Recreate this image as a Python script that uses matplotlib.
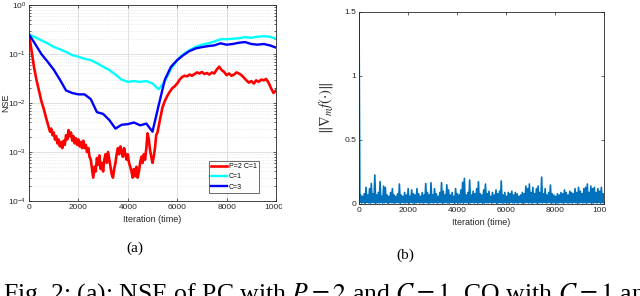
import numpy as np
import matplotlib
matplotlib.use("Agg")
import matplotlib.pyplot as plt
from matplotlib.patches import Rectangle
from matplotlib.ticker import LogLocator, FixedLocator, NullFormatter

plt.rcParams['font.family'] = ['Liberation Sans', 'DejaVu Sans']
plt.rcParams['mathtext.fontset'] = 'stix'

# ---------------- data (a) ----------------
red_x = list(range(0, 800, 100)) + list(range(800, 5200, 50)) + list(range(5200, 10001, 100))
red_pc = [0.25, 0.12, 0.055, 0.03, 0.018, 0.011, 0.0075, 0.0048,
          0.0032, 0.0026, 0.0030, 0.0022, 0.0025, 0.0018, 0.0021, 0.0015, 0.0018, 0.0013,
          0.0016, 0.0012, 0.0017, 0.0014, 0.0022, 0.0018, 0.0028, 0.0021, 0.0025, 0.0017,
          0.0021, 0.0015, 0.0019, 0.0014, 0.0018, 0.0013, 0.0016, 0.0012, 0.0017, 0.0012,
          0.0014, 0.0010, 0.0012, 0.0008, 0.0007, 0.00045, 0.00030, 0.00050, 0.00040, 0.00075,
          0.00055, 0.00085, 0.00045, 0.0006, 0.0004, 0.0007, 0.0009, 0.0006, 0.001, 0.0007,
          0.0005, 0.00035, 0.0003, 0.00045, 0.0006, 0.0009, 0.0012, 0.0009, 0.0013, 0.001,
          0.0008, 0.0012, 0.0009, 0.0007, 0.0009, 0.0006, 0.0005, 0.0004, 0.0003, 0.00045,
          0.00032, 0.0005, 0.0003, 0.0004, 0.0006, 0.0008, 0.0006, 0.0009, 0.0007, 0.0012,
          0.0024, 0.0018, 0.0011, 0.0008, 0.0006, 0.0008, 0.0012, 0.0022,
          0.0025, 0.0045, 0.008, 0.011, 0.014, 0.017, 0.020, 0.022,
          0.025, 0.030, 0.034, 0.036, 0.035, 0.038, 0.036, 0.039, 0.042, 0.040,
          0.043, 0.039, 0.041, 0.038, 0.042, 0.040, 0.048, 0.055, 0.047, 0.043,
          0.037, 0.040, 0.036, 0.038, 0.042, 0.040, 0.037, 0.033, 0.029, 0.026,
          0.028, 0.025, 0.029, 0.027, 0.030, 0.029, 0.031, 0.026, 0.020, 0.016,
          0.018]

co_x = list(range(0, 10001, 250))
cyan_c1 = [0.25, 0.22, 0.19, 0.165, 0.14, 0.125, 0.11, 0.095, 0.088, 0.08,
           0.075, 0.065, 0.055, 0.047, 0.038, 0.03, 0.027, 0.028, 0.027, 0.028,
           0.025, 0.019, 0.028, 0.05, 0.075, 0.1, 0.12, 0.14, 0.155, 0.165,
           0.18, 0.2, 0.2, 0.205, 0.21, 0.22, 0.215, 0.225, 0.23, 0.225,
           0.205]
blue_c3 = [0.25, 0.16, 0.1, 0.07, 0.048, 0.03, 0.018, 0.016, 0.015, 0.015,
           0.012, 0.0065, 0.006, 0.0045, 0.003, 0.0036, 0.0037, 0.004, 0.0035, 0.0038,
           0.0026, 0.009, 0.03, 0.055, 0.075, 0.095, 0.115, 0.13, 0.138, 0.145,
           0.15, 0.165, 0.155, 0.16, 0.17, 0.175, 0.16, 0.155, 0.16, 0.15,
           0.135]
legend_labels = ['P=2 C=1', 'C=1', 'C=3']

# ---------------- data (b) ----------------
grad_peaks = [1.5, 0.07, 0.06, 0.08, 0.13, 0.07, 0.12, 0.16, 0.08, 0.226,
              0.07, 0.09, 0.175, 0.06, 0.14, 0.13, 0.07, 0.06, 0.09, 0.12,
              0.07, 0.06, 0.08, 0.156, 0.07, 0.06, 0.09, 0.07, 0.12, 0.06,
              0.11, 0.08, 0.07, 0.12, 0.08, 0.06, 0.09, 0.07, 0.16, 0.09,
              0.07, 0.166, 0.07, 0.12, 0.08, 0.06, 0.09, 0.166, 0.1, 0.07,
              0.15, 0.11, 0.07, 0.09, 0.06, 0.12, 0.08, 0.07, 0.11, 0.17,
              0.2, 0.07, 0.09, 0.187, 0.07, 0.1, 0.08, 0.12, 0.174, 0.08,
              0.07, 0.11, 0.156, 0.08, 0.1, 0.06, 0.09, 0.07, 0.11, 0.08,
              0.1, 0.18, 0.07, 0.09, 0.06, 0.09, 0.08, 0.1, 0.07, 0.09,
              0.08, 0.06, 0.07, 0.09, 0.08, 0.14, 0.12, 0.156, 0.09, 0.13,
              0.08, 0.12, 0.14, 0.09, 0.21, 0.08, 0.12, 0.07, 0.09, 0.148,
              0.08, 0.07, 0.06, 0.08, 0.07, 0.09, 0.08, 0.11, 0.09, 0.07,
              0.1, 0.09, 0.08, 0.12, 0.09, 0.13, 0.1, 0.08, 0.12, 0.13,
              0.156, 0.09, 0.14, 0.12, 0.13, 0.09, 0.12, 0.1, 0.13, 0.08]
grad_troughs = [0.012, 0.008, 0.011, 0.006, 0.013, 0.009, 0.007, 0.012, 0.010, 0.006,
                0.011, 0.008, 0.013, 0.007, 0.010, 0.012, 0.006, 0.009, 0.011, 0.008,
                0.007, 0.012, 0.010, 0.006, 0.013, 0.009, 0.008, 0.011, 0.007, 0.012,
                0.010, 0.006, 0.009, 0.013, 0.008, 0.011, 0.007, 0.010, 0.012, 0.006,
                0.009, 0.011, 0.008, 0.013, 0.007, 0.010, 0.012, 0.006, 0.009, 0.011,
                0.008, 0.007, 0.012, 0.010, 0.006, 0.013, 0.009, 0.008, 0.011, 0.007,
                0.012, 0.010, 0.006, 0.009, 0.013, 0.008, 0.011, 0.007, 0.010, 0.012,
                0.006, 0.009, 0.011, 0.008, 0.013, 0.007, 0.010, 0.012, 0.006, 0.009,
                0.011, 0.008, 0.007, 0.012, 0.010, 0.006, 0.013, 0.009, 0.008, 0.011,
                0.007, 0.012, 0.010, 0.006, 0.009, 0.013, 0.008, 0.011, 0.007, 0.010,
                0.012, 0.006, 0.009, 0.011, 0.008, 0.013, 0.007, 0.010, 0.012, 0.006,
                0.009, 0.011, 0.008, 0.007, 0.012, 0.010, 0.006, 0.013, 0.009, 0.008,
                0.011, 0.007, 0.012, 0.010, 0.006, 0.009, 0.013, 0.008, 0.011, 0.007,
                0.010, 0.012, 0.006, 0.009, 0.011, 0.008, 0.013, 0.007, 0.010, 0.012]

x_ticks = [0, 2000, 4000, 6000, 8000, 10000]

W, H = 640, 296
fig = plt.figure(figsize=(6.4, 2.96), dpi=100)

def px_axes(l, t, r, b):
    return fig.add_axes([l / W, 1 - b / H, (r - l) / W, (b - t) / H])

tick_col = '#262626'
spine_col = '#262626'

# ---------------- panel (a) ----------------
ax1 = px_axes(29, 5, 276, 201)
ax1.semilogy(red_x, red_pc, color='#ff0000', lw=1.9, label=legend_labels[0])
ax1.semilogy(co_x, cyan_c1, color='#00ffff', lw=1.7, label=legend_labels[1])
ax1.semilogy(co_x, blue_c3, color='#0000ff', lw=1.7, label=legend_labels[2])
ax1.set_xlim(0, 10000)
ax1.set_ylim(1e-4, 1)
ax1.set_xticks(x_ticks)
ax1.set_xticklabels([str(v) for v in x_ticks])
ax1.yaxis.set_major_locator(FixedLocator([1e-4, 1e-3, 1e-2, 1e-1, 1]))
ax1.yaxis.set_minor_locator(LogLocator(base=10, subs=np.arange(2, 10), numticks=20))
ax1.yaxis.set_minor_formatter(NullFormatter())
ax1.grid(True, which='major', color='#dcdcdc', lw=0.6)
ax1.grid(True, which='minor', axis='y', color='#dcdcdc', lw=0.5, ls=':')
ax1.set_axisbelow(True)
ax1.tick_params(which='both', direction='in', top=True, right=True, labelsize=6,
                colors=tick_col, length=2.5, width=0.5, pad=2)
ax1.tick_params(which='minor', length=1.3)
for s in ax1.spines.values():
    s.set_color(spine_col); s.set_linewidth(0.6)
ax1.set_xlabel('Iteration (time)', fontsize=6.5, color=tick_col, labelpad=3)
ax1.set_ylabel('NSE', fontsize=6.5, color=tick_col)
ax1.yaxis.set_label_coords((10 - 29) / 247, 0.5)
leg = ax1.legend(loc='lower right', bbox_to_anchor=((259 - 29) / 247, 8 / 196),
                 fontsize=5, frameon=True, fancybox=False,
                 edgecolor='#262626', handlelength=2.2, handletextpad=0.3,
                 borderpad=0.35, labelspacing=0.45, borderaxespad=0.0)
leg.get_frame().set_linewidth(0.6)

# ---------------- panel (b) ----------------
ax2 = px_axes(359, 11.7, 604, 204)
vals = np.empty(2 * len(grad_peaks))
vals[0::2] = grad_peaks
vals[1::2] = grad_troughs
iters = np.linspace(0, 10000, len(vals))
ax2.plot(iters, vals, color='#0072bd', lw=1.2)
ax2.set_xlim(0, 10000)
ax2.set_ylim(0, 1.5)
ax2.set_xticks(x_ticks)
ax2.set_xticklabels([str(v) for v in x_ticks])
ax2.set_yticks([0, 0.5, 1, 1.5])
ax2.set_yticklabels(['0', '0.5', '1', '1.5'])
ax2.tick_params(direction='in', top=True, right=True, labelsize=6,
                colors=tick_col, length=2.5, width=0.5, pad=2)
for s in ax2.spines.values():
    s.set_color(spine_col); s.set_linewidth(0.6)
ax2.set_xlabel('Iteration (time)', fontsize=6.5, color=tick_col, labelpad=3)
ax2.set_ylabel(r'$\|\nabla_m f(\cdot)\|$', fontsize=10.5, color=tick_col)
ax2.yaxis.set_label_coords((335 - 359) / 245, 0.5)

# cut-off tick labels (sub-figure crops)
fig.patches.append(Rectangle((282 / W, 0.2), 40 / W, 0.12, transform=fig.transFigure,
                             facecolor='white', edgecolor='none', zorder=10))
fig.patches.append(Rectangle((606 / W, 0.2), 40 / W, 0.12, transform=fig.transFigure,
                             facecolor='white', edgecolor='none', zorder=10))

# captions
fig.text(135 / W, 1 - 248 / H, '(a)', ha='center', va='center', fontsize=11,
         family='Liberation Serif', color='black')
fig.text(405 / W, 1 - 255 / H, '(b)', ha='center', va='center', fontsize=11,
         family='Liberation Serif', color='black')
fig.text(3 / W, 1 - 301 / H,
         r'Fig. 2: (a): NSE of PC with $P=2$ and $C=1$, CO with $C=1$ and $C=3$; (b)',
         ha='left', va='baseline', fontsize=18.5, family='Liberation Serif', color='black')

fig.savefig('out.png', dpi=100)
